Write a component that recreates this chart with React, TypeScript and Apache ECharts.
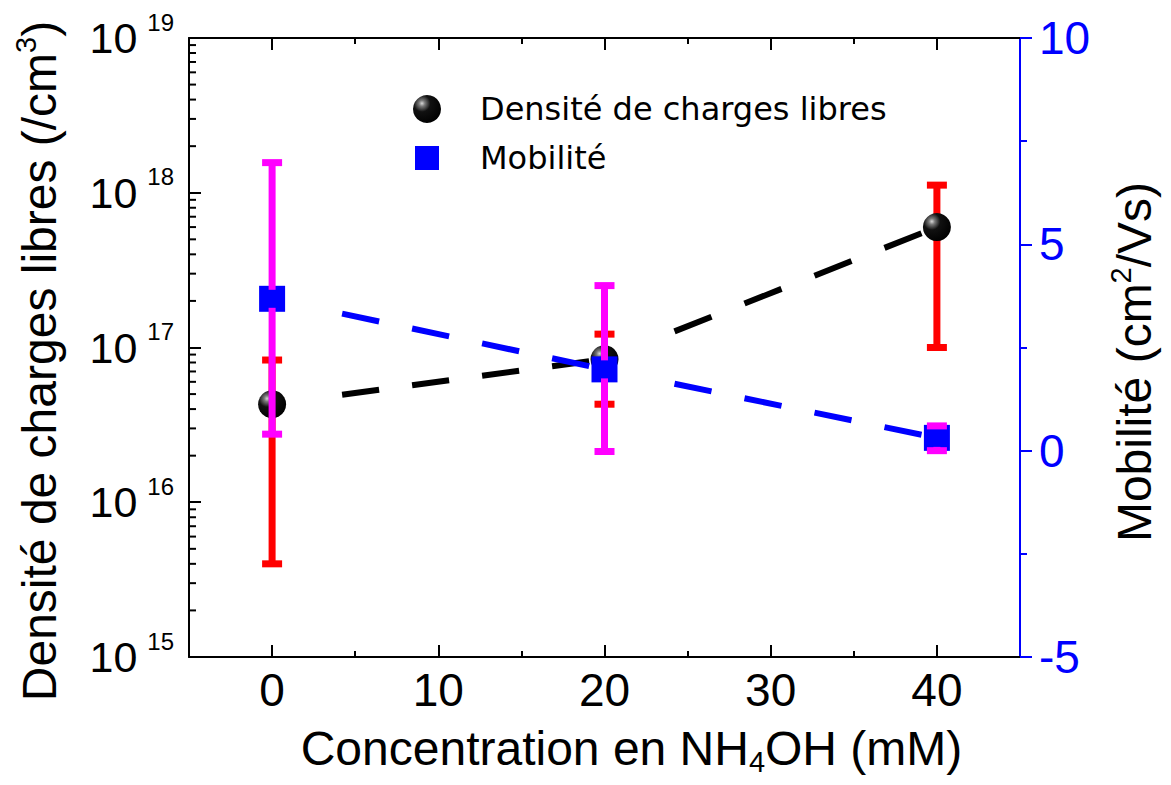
import React, { useEffect, useRef } from 'react';
import * as echarts from 'echarts';

// ---- data ----
const CONCENTRATION = [0, 20, 40];
const DENSITY = [4.3e16, 8.4e16, 6.0e17];
const DENSITY_LOW = [4.0e15, 4.3e16, 1.0e17];
const DENSITY_HIGH = [8.3e16, 1.22e17, 1.12e18];
const MOBILITY = [3.68, 1.97, 0.31];
const MOBILITY_LOW = [0.4, -0.02, 0.0];
const MOBILITY_HIGH = [6.98, 4.0, 0.6];

// ---- axes ----
const X_MIN = -5;
const X_MAX = 45;
const X_MAJOR_TICKS = [0, 10, 20, 30, 40];
const X_MINOR_TICKS = [5, 15, 25, 35];
const Y_LOG_MIN = 1e15;
const Y_LOG_MAX = 1e19;
const LOG_DECADES = [1e15, 1e16, 1e17, 1e18];
const LOG_MINOR_MULTIPLIERS = [2, 3, 4, 5, 6, 7, 8, 9];
const Y_RIGHT_MIN = -5;
const Y_RIGHT_MAX = 10;
const Y_RIGHT_INTERVAL = 5;

const SERIES_NAMES = ['Densité de charges libres', 'Mobilité'];

const FONT = 'Liberation Sans, Arial, Helvetica, sans-serif';
const BLUE = '#0000ff';
const RED = '#ff0000';
const MAGENTA = '#ff00ff';

function buildOption() {
  const densityPoints = CONCENTRATION.map((x, i) => [x, DENSITY[i]]);
  const mobilityPoints = CONCENTRATION.map((x, i) => [x, MOBILITY[i]]);
  const densityErr = CONCENTRATION.map((x, i) => [x, DENSITY[i], DENSITY_LOW[i], DENSITY_HIGH[i]]);
  const mobilityErr = CONCENTRATION.map((x, i) => [x, MOBILITY[i], MOBILITY_LOW[i], MOBILITY_HIGH[i]]);
  const segs = (ys: number[]) =>
    CONCENTRATION.slice(0, -1).map((x, i) => [x, ys[i], CONCENTRATION[i + 1], ys[i + 1]]);
  const logMinor: number[][] = [];
  LOG_DECADES.forEach((d) => LOG_MINOR_MULTIPLIERS.forEach((m) => logMinor.push([X_MIN, d * m])));

  const dashedRender = (color: string) => (params: any, api: any) => {
    const p0 = api.coord([api.value(0), api.value(1)]);
    const p1 = api.coord([api.value(2), api.value(3)]);
    const dx = p1[0] - p0[0];
    const dy = p1[1] - p0[1];
    const len = Math.hypot(dx, dy);
    const k = len / Math.max(1e-6, Math.abs(dx));
    const ux = dx / len;
    const uy = dy / len;
    const gap = 70 * k;
    return {
      type: 'line',
      shape: { x1: p0[0] + ux * gap, y1: p0[1] + uy * gap, x2: p1[0], y2: p1[1] },
      style: { stroke: color, lineWidth: 6, lineDash: [37 * k, 33 * k], fill: null },
    };
  };

  const errRender = (color: string, gapPx: number) => (params: any, api: any) => {
    const x = api.value(0);
    const pc = api.coord([x, api.value(1)]);
    const pl = api.coord([x, api.value(2)]);
    const ph = api.coord([x, api.value(3)]);
    const st = { stroke: color, lineWidth: 7, fill: null };
    const halfCap = 10;
    const children: any[] = [];
    if (gapPx > 0) {
      if (pc[1] - gapPx > ph[1])
        children.push({ type: 'line', shape: { x1: pc[0], y1: ph[1], x2: pc[0], y2: pc[1] - gapPx }, style: st });
      if (pc[1] + gapPx < pl[1])
        children.push({ type: 'line', shape: { x1: pc[0], y1: pc[1] + gapPx, x2: pc[0], y2: pl[1] }, style: st });
    } else {
      children.push({ type: 'line', shape: { x1: pc[0], y1: ph[1], x2: pc[0], y2: pl[1] }, style: st });
    }
    children.push({ type: 'line', shape: { x1: pc[0] - halfCap, y1: ph[1], x2: pc[0] + halfCap, y2: ph[1] }, style: st });
    children.push({ type: 'line', shape: { x1: pc[0] - halfCap, y1: pl[1], x2: pc[0] + halfCap, y2: pl[1] }, style: st });
    return { type: 'group', children };
  };

  const sphere = {
    type: 'radial',
    x: 0.32,
    y: 0.3,
    r: 0.75,
    colorStops: [
      { offset: 0, color: '#d8d8d8' },
      { offset: 0.14, color: '#7a7a7a' },
      { offset: 0.4, color: '#111111' },
      { offset: 1, color: '#000000' },
    ],
  };

  const axisBase = {
    type: 'value',
    min: X_MIN,
    max: X_MAX,
    splitLine: { show: false },
  };

  return {
    animation: false,
    backgroundColor: '#ffffff',
    textStyle: { fontFamily: FONT },
    grid: { left: 189, right: 151, top: 38, bottom: 128, containLabel: false, outerBoundsMode: 'none' },
    legend: {
      orient: 'vertical',
      left: 413,
      top: 93,
      itemWidth: 28,
      itemHeight: 28,
      itemGap: 17,
      padding: 0,
      selectedMode: false,
      textStyle: {
        fontFamily: 'DejaVu Sans',
        fontSize: 32,
        color: '#000',
        lineHeight: 28,
        padding: [0, 0, 0, 34],
      },
      data: [
        { name: SERIES_NAMES[0], icon: 'circle' },
        { name: SERIES_NAMES[1], icon: 'path://M0,0M28,28M2,2L26,2L26,26L2,26Z' },
      ],
    },
    xAxis: [
      {
        ...axisBase,
        position: 'bottom',
        axisLine: { show: true, onZero: false, lineStyle: { color: '#000', width: 2 } },
        axisTick: { show: true, inside: true, length: 12, customValues: X_MAJOR_TICKS, lineStyle: { color: '#000', width: 2 } },
        axisLabel: { show: true, customValues: X_MAJOR_TICKS, fontSize: 46, margin: 10, color: '#000', fontFamily: FONT },
        name: 'Concentration en NH{sub|4}OH (mM)',
        nameLocation: 'middle',
        nameGap: 63,
        nameTextStyle: {
          fontSize: 48,
          color: '#000',
          fontFamily: FONT,
          lineHeight: 56,
          padding: [0, 0, 0, 54],
          rich: { sub: { fontSize: 29, lineHeight: 28, verticalAlign: 'bottom', color: '#000', fontFamily: FONT } },
        },
      },
      {
        ...axisBase,
        position: 'bottom',
        axisLine: { show: false, onZero: false },
        axisTick: { show: true, inside: true, length: 6, customValues: X_MINOR_TICKS, lineStyle: { color: '#000', width: 2 } },
        axisLabel: { show: false },
      },
      {
        ...axisBase,
        position: 'top',
        axisLine: { show: true, onZero: false, lineStyle: { color: '#000', width: 2 } },
        axisTick: { show: true, inside: true, length: 12, customValues: X_MAJOR_TICKS, lineStyle: { color: '#000', width: 2 } },
        axisLabel: { show: false },
      },
      {
        ...axisBase,
        position: 'top',
        axisLine: { show: false, onZero: false },
        axisTick: { show: true, inside: true, length: 6, customValues: X_MINOR_TICKS, lineStyle: { color: '#000', width: 2 } },
        axisLabel: { show: false },
      },
    ],
    yAxis: [
      {
        type: 'log',
        logBase: 10,
        min: Y_LOG_MIN,
        max: Y_LOG_MAX,
        position: 'left',
        splitLine: { show: false },
        axisLine: { show: true, onZero: false, lineStyle: { color: '#000', width: 2 } },
        axisTick: { show: true, inside: true, length: 12, lineStyle: { color: '#000', width: 2 } },
        axisLabel: {
          margin: 15,
          formatter: (v: number) => `{b|10}{s|${Math.round(Math.log10(v))}}`,
          rich: {
            b: { fontSize: 43, lineHeight: 56, color: '#000', fontFamily: FONT },
            s: {
              fontSize: 24,
              lineHeight: 24,
              verticalAlign: 'bottom',
              color: '#000',
              fontFamily: FONT,
              padding: [0, 0, 32, 10],
            },
          },
        },
        name: 'Densité de charges libres (/cm{sup|3})',
        nameLocation: 'middle',
        nameRotate: 90,
        nameGap: 122,
        nameTextStyle: {
          fontSize: 48,
          color: '#000',
          fontFamily: FONT,
          lineHeight: 56,
          padding: [0, 27, 0, 0],
          rich: { sup: { fontSize: 29, lineHeight: 28, verticalAlign: 'top', color: '#000', fontFamily: FONT } },
        },
      },
      {
        type: 'value',
        min: Y_RIGHT_MIN,
        max: Y_RIGHT_MAX,
        interval: Y_RIGHT_INTERVAL,
        position: 'right',
        splitLine: { show: false },
        axisLine: { show: true, onZero: false, lineStyle: { color: BLUE, width: 2 } },
        axisTick: { show: true, inside: false, length: 12, lineStyle: { color: BLUE, width: 2 } },
        minorTick: { show: true, splitNumber: 2, length: 7, lineStyle: { color: BLUE, width: 2 } },
        axisLabel: { margin: 19, fontSize: 46, color: BLUE, fontFamily: FONT },
        name: 'Mobilité (cm{sup|2}/Vs)',
        nameLocation: 'middle',
        nameRotate: 90,
        nameGap: 86,
        nameTextStyle: {
          fontSize: 48,
          color: '#000',
          fontFamily: FONT,
          lineHeight: 56,
          padding: [0, 29, 0, 0],
          rich: { sup: { fontSize: 29, lineHeight: 28, verticalAlign: 'top', color: '#000', fontFamily: FONT } },
        },
      },
    ],
    series: [
      {
        type: 'custom',
        name: 'logMinorTicks',
        xAxisIndex: 0,
        yAxisIndex: 0,
        z: 3,
        silent: true,
        clip: false,
        encode: { x: 0, y: 1 },
        data: logMinor,
        renderItem: (params: any, api: any) => {
          const p = api.coord([api.value(0), api.value(1)]);
          return {
            type: 'line',
            shape: { x1: p[0], y1: p[1], x2: p[0] + 7, y2: p[1] },
            style: { stroke: '#000', lineWidth: 2, fill: null },
          };
        },
      },
      {
        type: 'custom',
        name: 'densityLine',
        xAxisIndex: 0,
        yAxisIndex: 0,
        z: 2,
        silent: true,
        encode: { x: [0, 2], y: [1, 3] },
        data: segs(DENSITY),
        renderItem: dashedRender('#000000'),
      },
      {
        type: 'custom',
        name: 'mobilityLine',
        xAxisIndex: 0,
        yAxisIndex: 1,
        z: 2,
        silent: true,
        encode: { x: [0, 2], y: [1, 3] },
        data: segs(MOBILITY),
        renderItem: dashedRender(BLUE),
      },
      {
        type: 'custom',
        name: 'densityErr',
        xAxisIndex: 0,
        yAxisIndex: 0,
        z: 3,
        silent: true,
        encode: { x: 0, y: [1, 2, 3] },
        data: densityErr,
        renderItem: errRender(RED, 0),
      },
      {
        type: 'scatter',
        name: SERIES_NAMES[0],
        xAxisIndex: 0,
        yAxisIndex: 0,
        z: 4,
        symbol: 'circle',
        symbolSize: 28,
        itemStyle: { color: sphere, opacity: 1 },
        data: densityPoints,
      },
      {
        type: 'scatter',
        name: SERIES_NAMES[1],
        xAxisIndex: 0,
        yAxisIndex: 1,
        z: 5,
        symbol: 'rect',
        symbolSize: 26,
        itemStyle: { color: BLUE, opacity: 1 },
        data: mobilityPoints,
      },
      {
        type: 'custom',
        name: 'mobilityErr',
        xAxisIndex: 0,
        yAxisIndex: 1,
        z: 6,
        silent: true,
        encode: { x: 0, y: [1, 2, 3] },
        data: mobilityErr,
        renderItem: errRender(MAGENTA, 9),
      },
    ],
  };
}

export default function App() {
  const ref = useRef<HTMLDivElement>(null);
  useEffect(() => {
    if (!ref.current) return;
    const chart = echarts.init(ref.current, null, { renderer: 'svg' });
    chart.setOption(buildOption() as any);
    return () => chart.dispose();
  }, []);
  return (
    <div
      ref={ref}
      style={{ position: 'absolute', left: 0, top: 0, width: 1171, height: 785, background: '#ffffff' }}
    />
  );
}
